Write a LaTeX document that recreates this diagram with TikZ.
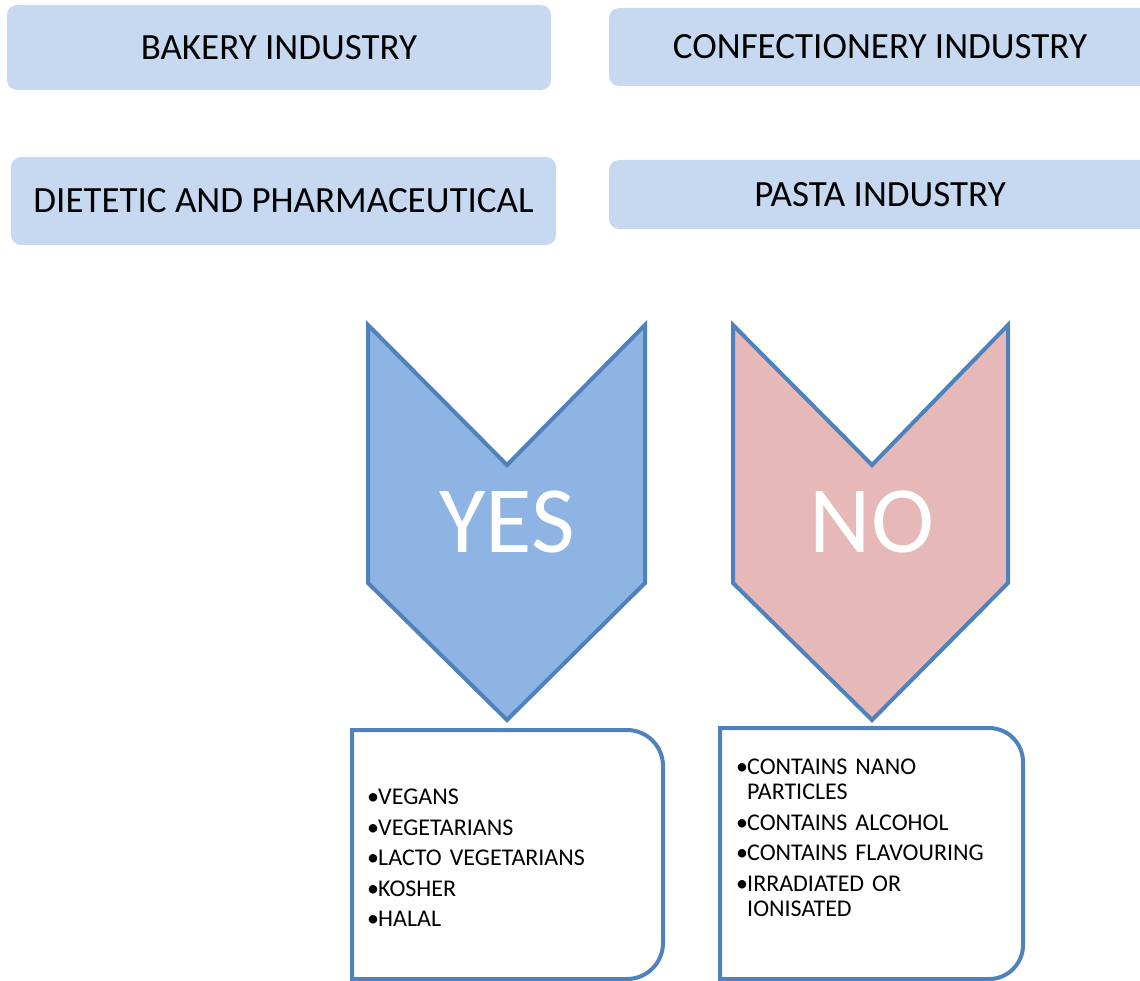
\documentclass[tikz,border=0pt]{standalone}
\usepackage{fontspec}
\setmainfont{Carlito}
\definecolor{boxfill}{HTML}{C6D9F1}
\definecolor{yesfill}{HTML}{8EB4E3}
\definecolor{nofill}{HTML}{E6B9B8}
\definecolor{edge}{HTML}{4F81BD}
\newcommand\blt[1]{\par\hangindent=11pt\hangafter=1\noindent\makebox[11pt][l]{•}#1\par}
\newcommand\lbrk{\hfil\break}
\tikzset{
  topbox/.style={fill=boxfill, rounded corners=10pt, inner sep=0pt,
    font=\fontsize{37}{42}\selectfont, text=black},
  chev/.style={draw=edge, line width=4pt, line join=miter},
  chevtext/.style={text=white, font=\fontsize{95}{100}\selectfont, inner sep=0pt},
  listbox/.style={draw=edge, line width=4pt, fill=white},
  listtext/.style={anchor=base west, inner sep=0pt, text width=300pt, align=left,
    font=\fontsize{24}{25}\selectfont},
}
\begin{document}
\begin{tikzpicture}[x=1pt,y=-1pt]
\useasboundingbox (0,0) rectangle (1140,981);
\clip (0,0) rectangle (1140,981);
% top boxes
\node[topbox, minimum width=544pt, minimum height=85pt] (bakery) at (279,47.5) {BAKERY INDUSTRY};
\node[topbox, minimum width=545pt, minimum height=88pt] (dietetic) at (283.5,201) {DIETETIC AND PHARMACEUTICAL};
\node[topbox, minimum width=542pt, minimum height=78pt] (confect) at (880,47) {CONFECTIONERY INDUSTRY};
\node[topbox, minimum width=542pt, minimum height=69pt] (pasta) at (880,194.5) {PASTA INDUSTRY};
% chevrons
\draw[chev, fill=yesfill] (368,325) -- (507,465) -- (645,325) -- (645,583) -- (507,720) -- (368,583) -- cycle;
\node[chevtext] (yes) at (507,522) {YES};
\draw[chev, fill=nofill] (733,325) -- (872,465) -- (1008,325) -- (1008,583) -- (872,720) -- (733,583) -- cycle;
\node[chevtext] (no) at (872,522) {NO};
% list boxes
\draw[listbox] (352,979) -- (352,730) [rounded corners=36pt] -- (663,730) -- (663,979) [sharp corners] -- cycle;
\draw[listbox] (720,979) -- (720,728) [rounded corners=34pt] -- (1023,728) -- (1023,979) [sharp corners] -- cycle;
\node[listtext] (yeslist) at (367,774) {\setlength{\parskip}{5.5pt}%
\blt{VEGANS}\blt{VEGETARIANS}\blt{LACTO VEGETARIANS}\blt{KOSHER}\blt{HALAL}};
\node[listtext] (nolist) at (736,744) {\setlength{\parskip}{5.5pt}%
\blt{CONTAINS NANO\lbrk PARTICLES}\blt{CONTAINS ALCOHOL}\blt{CONTAINS FLAVOURING}\blt{IRRADIATED OR\lbrk IONISATED}};
\end{tikzpicture}
\end{document}
